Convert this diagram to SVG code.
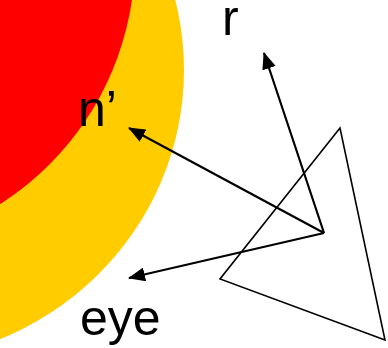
<svg xmlns="http://www.w3.org/2000/svg" width="388" height="348" viewBox="0 0 388 348">
<style>
.lbl{font-family:"Liberation Sans",Arial,sans-serif;font-size:50px;fill:#000}
.arr{stroke:#000;stroke-width:2.2;fill:none;marker-end:url(#ah)}
</style>
<defs>
<marker id="ah" markerUnits="userSpaceOnUse" markerWidth="18" markerHeight="14" refX="16" refY="7" orient="auto">
<path d="M0,0 L17,7 L0,14 Z" fill="#000"/>
</marker>
</defs>
<rect width="388" height="348" fill="#fff"/>
<g id="yellow"><ellipse cx="-116" cy="70" rx="300" ry="292" fill="#FFCC00"/></g>
<g id="red"><circle cx="-157" cy="-42" r="292" fill="#FF0000"/></g>
<g id="triangle"><polygon points="340,128 220,279 385,340" fill="none" stroke="#000" stroke-width="1.6"/></g>
<g id="connectors">
<line class="arr" x1="324" y1="233" x2="264" y2="53"/>
<line class="arr" x1="324" y1="233" x2="129" y2="128"/>
<line class="arr" x1="324" y1="233" x2="129" y2="278"/>
</g>
<g id="label-r"><text class="lbl" x="222" y="35">r</text></g>
<g id="label-n"><text class="lbl" x="78" y="126">n’</text></g>
<g id="label-eye"><text class="lbl" x="80" y="335">eye</text></g>
</svg>
